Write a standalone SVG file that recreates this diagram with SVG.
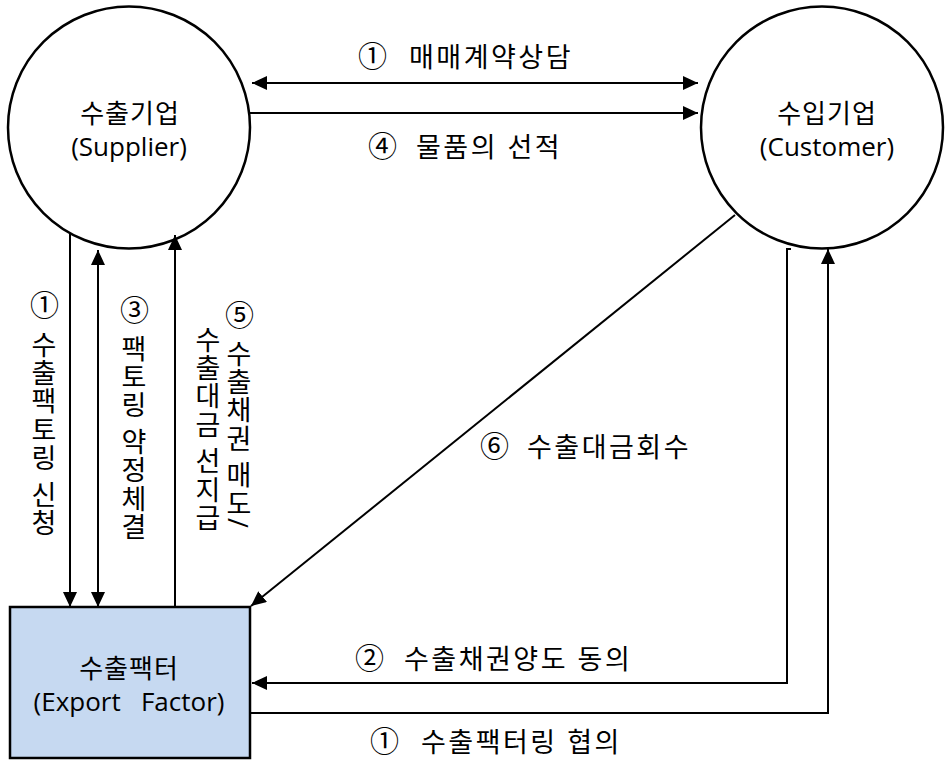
<svg xmlns="http://www.w3.org/2000/svg" width="947" height="766" viewBox="0 0 947 766">
<style>
text{font-family:"Open Sans","Noto Sans CJK KR",sans-serif;fill:#000}
.n{font-size:26px;text-anchor:middle}
.k{letter-spacing:1px}
.l{font-size:27px;letter-spacing:2.5px}
.v{font-size:27px;letter-spacing:1.3px;writing-mode:vertical-rl}
.o{font-size:29px;letter-spacing:0}
.c{fill:#fff;stroke:#000;stroke-width:2.5}
.w{fill:none;stroke:#000;stroke-width:2}
</style>
<defs>
<marker id="a" markerUnits="userSpaceOnUse" markerWidth="16" markerHeight="14" refX="15" refY="7" orient="auto-start-reverse" viewBox="0 0 16 14">
<path d="M0,0 L15,7 L0,14 z" fill="#000"/>
</marker>
</defs>
<rect width="947" height="766" fill="#fff"/>
<g id="supplier">
<circle class="c" cx="129" cy="127.5" r="121"/>
<text class="n k" x="130" y="123">수출기업</text>
<text class="n" x="129" y="156">(Supplier)</text>
</g>
<g id="customer">
<circle class="c" cx="822" cy="127.5" r="121"/>
<text class="n k" x="827" y="123">수입기업</text>
<text class="n" x="827" y="156">(Customer)</text>
</g>
<g id="factor">
<rect x="10" y="607" width="240" height="151" fill="#c6d9f1" stroke="#000" stroke-width="2.5"/>
<text class="n k" x="129" y="678">수출팩터</text>
<text class="n" x="129" y="711" xml:space="preserve">(Export   Factor)</text>
</g>
<g id="connectors">
<line class="w" x1="252" y1="83" x2="698" y2="83" marker-start="url(#a)" marker-end="url(#a)"/>
<line class="w" x1="250" y1="113" x2="698" y2="113" marker-end="url(#a)"/>
<line class="w" x1="70" y1="233" x2="70" y2="607" marker-end="url(#a)"/>
<line class="w" x1="98" y1="250" x2="98" y2="607" marker-start="url(#a)" marker-end="url(#a)"/>
<line class="w" x1="175" y1="607" x2="175" y2="235" marker-end="url(#a)"/>
<line class="w" x1="735" y1="215" x2="251" y2="606" marker-end="url(#a)"/>
<path class="w" d="M791,249 L787,249 L787,683 L252,683" marker-end="url(#a)"/>
<path class="w" d="M250,713 L828,713 L828,249" marker-end="url(#a)"/>
</g>
<g id="labels">
<text class="l"><tspan class="o" x="358" y="67">①</tspan><tspan x="409" y="67">매매계약상담</tspan></text>
<text class="l"><tspan class="o" x="368" y="157">④</tspan><tspan x="416" y="157">물품의 선적</tspan></text>
<text class="l"><tspan class="o" x="355" y="669">②</tspan><tspan x="404" y="669">수출채권양도 동의</tspan></text>
<text class="l"><tspan class="o" x="370" y="752">①</tspan><tspan x="421" y="752">수출팩터링 협의</tspan></text>
<text class="l"><tspan class="o" x="480" y="457">⑥</tspan><tspan x="527" y="457">수출대금회수</tspan></text>
<text class="v"><tspan class="o" x="43" y="290">①</tspan><tspan x="43" y="331">수출팩토링 신청</tspan></text>
<text class="v"><tspan class="o" x="133" y="295">③</tspan><tspan x="133" y="335">팩토링 약정체결</tspan></text>
<text class="v"><tspan class="o" x="238" y="300">⑤</tspan><tspan x="238" y="340">수출채권 매도/</tspan></text>
<text class="v"><tspan x="207" y="326">수출대금 선지급</tspan></text>
</g>
</svg>
